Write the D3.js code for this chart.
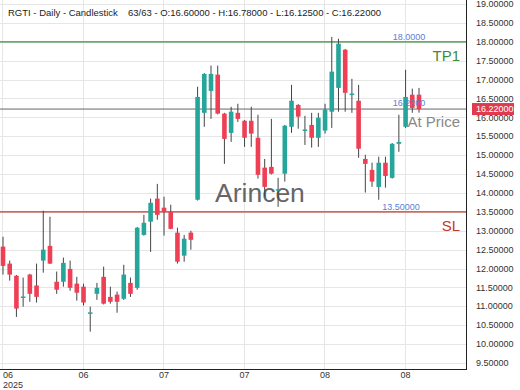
<!DOCTYPE html>
<html>
<head>
<meta charset="utf-8">
<script src="https://cdn.jsdelivr.net/npm/d3@7"></script>
<style>
  body { margin: 0; background: #fff; }
  svg { display: block; font-family: "Liberation Sans", Arial, sans-serif; }
</style>
</head>
<body>
<div id="chart"></div>
<script>
const opens = [12.58, 12.13, 11.81, 11.23, 11.84, 11.55, 12.21, 12.60, 11.65, 11.65,
  11.99, 11.60, 11.52, 10.82, 11.33, 11.78, 11.25, 11.31, 11.20, 11.62,
  11.49, 12.89, 13.24, 13.85, 13.61, 13.50, 12.95, 12.34, 12.95, 13.82,
  16.12, 16.70, 17.13, 16.10, 15.59, 16.12, 15.91, 15.91, 15.46, 14.67,
  14.69, 14.08, 14.51, 15.75, 16.33, 15.66, 15.80, 15.46, 15.65, 16.15,
  16.78, 17.79, 16.61, 16.44, 14.90, 14.61, 14.16, 14.80, 14.40, 15.30,
  15.75, 16.60, 16.60];
const highs = [12.84, 12.21, 11.83, 11.76, 11.86, 12.13, 13.53, 13.37, 11.92, 12.29,
  12.21, 11.78, 11.60, 10.99, 11.62, 12.05, 11.52, 11.39, 12.10, 11.76,
  13.10, 13.42, 13.85, 14.24, 13.90, 13.69, 13.08, 12.89, 13.00, 16.81,
  17.17, 17.37, 17.37, 16.12, 16.28, 16.36, 15.93, 16.28, 16.07, 14.90,
  15.96, 14.40, 15.80, 16.86, 16.35, 16.04, 16.12, 16.12, 16.36, 18.13,
  18.08, 17.81, 17.02, 16.86, 15.01, 14.80, 14.96, 14.96, 15.32, 16.07,
  17.26, 16.76, 16.78];
const lows = [11.84, 11.68, 10.72, 10.99, 11.12, 11.10, 11.89, 12.12, 11.33, 11.52,
  11.41, 11.15, 11.02, 10.33, 11.17, 11.05, 11.07, 10.83, 11.17, 11.25,
  11.44, 12.87, 12.44, 13.29, 12.87, 13.04, 12.13, 12.18, 12.50, 13.80,
  15.75, 15.96, 16.08, 14.77, 15.35, 15.88, 15.22, 15.22, 14.38, 13.90,
  14.49, 13.63, 14.30, 15.59, 15.70, 15.27, 15.20, 15.22, 15.57, 15.72,
  16.15, 16.15, 16.12, 14.93, 14.01, 14.16, 13.82, 14.14, 14.38, 15.09,
  15.72, 16.12, 16.125];
const closes = [12.07, 11.84, 10.94, 11.26, 11.33, 11.25, 12.50, 12.13, 11.44, 12.15,
  11.49, 11.36, 11.10, 10.84, 11.49, 11.07, 11.12, 11.12, 11.84, 11.33,
  13.08, 13.21, 13.74, 13.42, 13.50, 13.05, 12.18, 12.79, 12.76, 16.54,
  17.15, 17.15, 16.10, 15.43, 16.15, 15.96, 15.46, 15.57, 14.48, 14.16,
  14.51, 14.10, 15.78, 16.44, 16.02, 15.68, 15.46, 15.99, 16.20, 17.21,
  17.95, 16.65, 16.63, 15.17, 14.77, 14.30, 14.80, 14.45, 15.30, 15.35,
  16.54, 16.25, 16.22];

const tickIndex = [0, 12, 24, 36, 48, 60];
const tickLabels = ['06', '06', '07', '07', '08', '08'];
const yTicks = d3.range(9.5, 19.01, 0.5);

const tp1 = 18.0;
const sl = 13.5;
const lastPrice = 16.22;

const width = 520;
const height = 390;
const plotRight = 466;
const plotBottom = 369;
const upColor = '#26a69a';
const downColor = '#ef3f55';

const data = opens.map((o, i) => ({ i, o, h: highs[i], l: lows[i], c: closes[i] }));

const x = d3.scaleLinear().domain([0, 62]).range([3, 419]);
const y = d3.scaleLinear().domain([9.5, 19]).range([363, 4]);
const bodyW = 4.6;

const svg = d3.select('#chart').append('svg')
  .attr('width', width)
  .attr('height', height);

// grid
svg.append('g')
  .selectAll('line')
  .data(yTicks)
  .join('line')
  .attr('x1', 0).attr('x2', plotRight)
  .attr('y1', d => Math.round(y(d)) + 0.5).attr('y2', d => Math.round(y(d)) + 0.5)
  .attr('stroke', '#e6e6e6');

svg.append('g')
  .selectAll('line')
  .data(tickIndex)
  .join('line')
  .attr('x1', d => Math.round(x(d)) - 0.5).attr('x2', d => Math.round(x(d)) - 0.5)
  .attr('y1', 0).attr('y2', plotBottom)
  .attr('stroke', '#e6e6e6');

// level lines
svg.append('line')
  .attr('x1', 0).attr('x2', plotRight)
  .attr('y1', y(lastPrice)).attr('y2', y(lastPrice))
  .attr('stroke', '#666').attr('stroke-width', 1);

svg.append('line')
  .attr('x1', 0).attr('x2', plotRight)
  .attr('y1', y(tp1)).attr('y2', y(tp1))
  .attr('stroke', '#3d8b3d').attr('stroke-width', 1.2);

svg.append('line')
  .attr('x1', 0).attr('x2', plotRight)
  .attr('y1', y(sl)).attr('y2', y(sl))
  .attr('stroke', '#c0392b').attr('stroke-width', 1.2);

// watermark
svg.append('text')
  .attr('x', 215).attr('y', 202)
  .attr('font-size', 26.5)
  .attr('fill', '#666')
  .text('Arincen');

// candles
const candles = svg.append('g')
  .selectAll('g')
  .data(data)
  .join('g');

candles.append('line')
  .attr('x1', d => x(d.i)).attr('x2', d => x(d.i))
  .attr('y1', d => y(d.h)).attr('y2', d => y(d.l))
  .attr('stroke', '#444').attr('stroke-width', 1);

candles.append('rect')
  .attr('x', d => x(d.i) - bodyW / 2)
  .attr('width', bodyW)
  .attr('y', d => y(Math.max(d.o, d.c)))
  .attr('height', d => Math.max(1.5, Math.abs(y(d.o) - y(d.c))))
  .attr('fill', d => d.c >= d.o ? upColor : downColor);

// level labels
svg.append('text')
  .attr('x', 409).attr('y', 40)
  .attr('text-anchor', 'middle')
  .attr('font-size', 9).attr('fill', '#5a7fd0')
  .text(tp1.toFixed(4));

svg.append('text')
  .attr('x', 409).attr('y', 106)
  .attr('text-anchor', 'middle')
  .attr('font-size', 9).attr('fill', '#5a7fd0')
  .text(lastPrice.toFixed(4));

svg.append('text')
  .attr('x', 401).attr('y', 210)
  .attr('text-anchor', 'middle')
  .attr('font-size', 9).attr('fill', '#5a7fd0')
  .text(sl.toFixed(5));

svg.append('text')
  .attr('x', 460).attr('y', 61)
  .attr('text-anchor', 'end')
  .attr('font-size', 15).attr('fill', '#3d8b3d')
  .text('TP1');

svg.append('text')
  .attr('x', 460).attr('y', 127)
  .attr('text-anchor', 'end')
  .attr('font-size', 15).attr('fill', '#888')
  .text('At Price');

svg.append('text')
  .attr('x', 460).attr('y', 231)
  .attr('text-anchor', 'end')
  .attr('font-size', 15).attr('fill', '#c0392b')
  .text('SL');

// frame
svg.append('line')
  .attr('x1', plotRight + 0.5).attr('x2', plotRight + 0.5)
  .attr('y1', 0).attr('y2', plotBottom + 1)
  .attr('stroke', '#222');
svg.append('line')
  .attr('x1', 0).attr('x2', plotRight + 1)
  .attr('y1', plotBottom + 0.5).attr('y2', plotBottom + 0.5)
  .attr('stroke', '#222');

// y axis labels
svg.append('g')
  .selectAll('text')
  .data(yTicks)
  .join('text')
  .attr('x', 476)
  .attr('y', d => y(d))
  .attr('dy', '0.35em')
  .attr('font-size', 9)
  .attr('fill', '#333')
  .text(d => d.toFixed(5));

// last price tag
svg.append('rect')
  .attr('x', 472).attr('y', y(lastPrice) - 6)
  .attr('width', 42).attr('height', 12)
  .attr('fill', '#e03a4e');
svg.append('text')
  .attr('x', 476).attr('y', y(lastPrice))
  .attr('dy', '0.35em')
  .attr('font-size', 9).attr('fill', '#fff')
  .text(lastPrice.toFixed(5));

// x axis labels
svg.append('g')
  .selectAll('text')
  .data(tickIndex)
  .join('text')
  .attr('x', (d, k) => k === 0 ? 3 : x(d))
  .attr('y', 378)
  .attr('text-anchor', (d, k) => k === 0 ? 'start' : 'middle')
  .attr('font-size', 9)
  .attr('fill', '#333')
  .text((d, k) => tickLabels[k]);

svg.append('text')
  .attr('x', 3).attr('y', 388)
  .attr('font-size', 9).attr('fill', '#333')
  .text('2025');

// title
svg.append('text')
  .attr('x', 8).attr('y', 16)
  .attr('font-size', 9.5).attr('fill', '#222')
  .text('RGTI - Daily - Candlestick');
svg.append('text')
  .attr('x', 128).attr('y', 16)
  .attr('font-size', 9.5).attr('fill', '#222')
  .text(`${data.length}/${data.length} - O:${opens[62].toFixed(5)} - H:${highs[62].toFixed(5)} - L:${lows[62].toFixed(5)} - C:${closes[62].toFixed(5)}`);
</script>
</body>
</html>
